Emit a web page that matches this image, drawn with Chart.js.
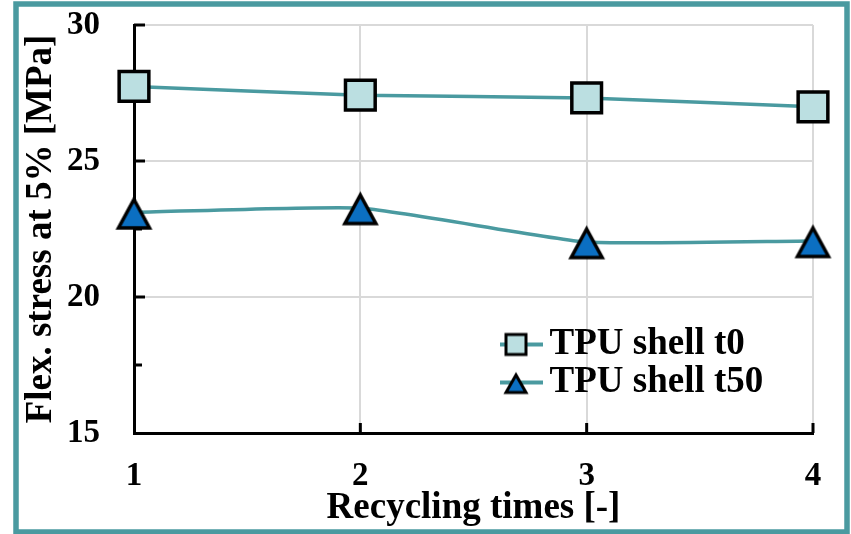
<!DOCTYPE html>
<html>
<head>
<meta charset="utf-8">
<script src="https://cdn.jsdelivr.net/npm/chart.js@4.4.1/dist/chart.umd.min.js"></script>
<style>
  html, body { margin: 0; padding: 0; background: #ffffff; }
  #wrap { position: relative; width: 851px; height: 534px; }
</style>
</head>
<body>
<div id="wrap"><canvas id="c" width="851" height="534"></canvas></div>
<script>
// ---- data ----
const recyclingTimes = ['1', '2', '3', '4'];
const tpuShellT0  = [27.74, 27.42, 27.32, 26.99];
const tpuShellT50 = [23.11, 23.27, 22.02, 22.06];
const seriesNames = ['TPU shell t0', 'TPU shell t50'];
const yTickValues = [15, 20, 25, 30];
const yMinorTickValues = [17.5, 22.5, 27.5];
const xTitle = 'Recycling times [-]';
const yTitle = 'Flex. stress at 5% [MPa]';

// ---- style ----
const TEAL = '#4a9aa0';
const SQUARE_FILL = '#bbdfe1';
const TRI_FILL = '#0b6fc2';
const FONT = "'Liberation Serif', serif";
Chart.defaults.font.family = FONT;

function triangleCanvas(w, h, lw, withLine, lineW) {
  const cw = withLine ? lineW : w + 12;
  const ch = h + 12;
  const c = document.createElement('canvas');
  c.width = cw; c.height = ch;
  const g = c.getContext('2d');
  const cx = cw / 2, cy = ch / 2;
  if (withLine) {
    g.strokeStyle = TEAL; g.lineWidth = 4;
    g.beginPath(); g.moveTo(0, cy); g.lineTo(cw, cy); g.stroke();
  }
  g.beginPath();
  g.moveTo(cx, cy - h / 2 + 1.5);
  g.lineTo(cx + w / 2, cy + h / 2 + 1);
  g.lineTo(cx - w / 2, cy + h / 2 + 1);
  g.closePath();
  g.fillStyle = TRI_FILL; g.fill();
  g.lineWidth = lw; g.lineJoin = 'miter'; g.strokeStyle = '#000'; g.stroke();
  return c;
}
function squareCanvas(s, lw, lineW) {
  const c = document.createElement('canvas');
  c.width = lineW; c.height = s + 8;
  const g = c.getContext('2d');
  const cx = c.width / 2, cy = c.height / 2;
  g.strokeStyle = TEAL; g.lineWidth = 4;
  g.beginPath(); g.moveTo(0, cy); g.lineTo(c.width, cy); g.stroke();
  g.fillStyle = SQUARE_FILL;
  g.fillRect(cx - s / 2, cy - s / 2, s, s);
  g.lineWidth = lw; g.strokeStyle = '#000';
  g.strokeRect(cx - s / 2, cy - s / 2, s, s);
  return c;
}

const triMarker = triangleCanvas(31, 29, 3.5, false);
const legendSquare = squareCanvas(20, 3, 54);
const legendTri = triangleCanvas(20, 18, 3, true, 54);

const frame = {
  id: 'frame',
  afterDraw(chart) {
    const ctx = chart.ctx;
    ctx.save();
    ctx.strokeStyle = TEAL; ctx.lineWidth = 5.5;
    ctx.strokeRect(16, 4, 831, 528);
    ctx.restore();
  }
};

const inwardTicks = {
  id: 'inwardTicks',
  beforeDatasetsDraw(chart) {
    const { ctx, chartArea: a, scales: { x, y } } = chart;
    ctx.save();
    ctx.strokeStyle = '#000'; ctx.lineWidth = 3; ctx.lineCap = 'butt';
    const seg = (x1, y1, x2, y2) => { ctx.beginPath(); ctx.moveTo(x1, y1); ctx.lineTo(x2, y2); ctx.stroke(); };
    yTickValues.forEach(v => { if (v > y.min) { const py = y.getPixelForValue(v); seg(a.left, py, a.left + 11, py); } });
    yMinorTickValues.forEach(v => { const py = y.getPixelForValue(v); seg(a.left, py, a.left + 8, py); });
    recyclingTimes.forEach((lab, i) => { if (i > 0) { const px = x.getPixelForValue(i); seg(px, a.bottom, px, a.bottom - 10); } });
    ctx.restore();
  }
};

const legendPlacer = {
  id: 'legendPlacer',
  afterLayout(chart) {
    const lg = chart.legend;
    if (!lg) return;
    const a = chart.chartArea;
    lg.left = 500; lg.top = 325;
    lg.right = a.right; lg.bottom = a.bottom + 60;
    lg.width = lg.right - lg.left; lg.height = lg.bottom - lg.top;
  }
};

new Chart(document.getElementById('c'), {
  type: 'line',
  data: {
    labels: recyclingTimes,
    datasets: [
      {
        label: seriesNames[0],
        data: tpuShellT0,
        borderColor: TEAL,
        borderWidth: 3.5,
        tension: 0.15,
        pointStyle: 'rect',
        pointRadius: 21,
        pointHoverRadius: 21,
        pointBackgroundColor: SQUARE_FILL,
        pointBorderColor: '#000',
        pointBorderWidth: 3.5
      },
      {
        label: seriesNames[1],
        data: tpuShellT50,
        borderColor: TEAL,
        borderWidth: 3.5,
        tension: 0.15,
        pointStyle: triMarker,
        pointRadius: 18,
        pointHoverRadius: 18
      }
    ]
  },
  options: {
    responsive: false,
    animation: false,
    events: [],
    layout: { padding: { top: 25, right: 38, left: 0, bottom: 0 } },
    plugins: {
      tooltip: { enabled: false },
      legend: {
        position: 'chartArea',
        align: 'start',
        labels: {
          usePointStyle: true,
          pointStyleWidth: 30,
          padding: 1,
          color: '#000',
          font: { family: FONT, size: 37, weight: 'bold' },
          generateLabels(chart) {
            const items = Chart.defaults.plugins.legend.labels.generateLabels(chart);
            items.forEach((it, i) => { it.pointStyle = i === 0 ? legendSquare : legendTri; });
            return items;
          }
        }
      }
    },
    scales: {
      x: {
        type: 'category',
        offset: false,
        afterFit(s) { s.height = 101; s.paddingLeft = 0; s.paddingRight = 0; },
        grid: { color: '#d9d9d9', lineWidth: 2, drawTicks: false, offset: false },
        border: { display: true, color: '#000', width: 3 },
        ticks: { color: '#000', padding: 24, maxRotation: 0, font: { family: FONT, size: 33, weight: 'bold' } },
        title: { display: true, text: xTitle, color: '#000', padding: { top: 0, bottom: 3 }, font: { family: FONT, size: 37, weight: 'bold' } }
      },
      y: {
        min: 15, max: 30,
        afterFit(s) { s.width = 134; s.paddingTop = 0; s.paddingBottom = 0; },
        afterBuildTicks(s) { s.ticks = yTickValues.map(v => ({ value: v })); },
        grid: { color: '#d9d9d9', lineWidth: 2, drawTicks: false },
        border: { display: true, color: '#000', width: 3 },
        ticks: { color: '#000', padding: 34, font: { family: FONT, size: 33, weight: 'bold' } },
        title: { display: true, text: yTitle, color: '#000', padding: { top: 19, bottom: 0 }, font: { family: FONT, size: 37, weight: 'bold' } }
      }
    }
  },
  plugins: [inwardTicks, legendPlacer, frame]
});
</script>
</body>
</html>
